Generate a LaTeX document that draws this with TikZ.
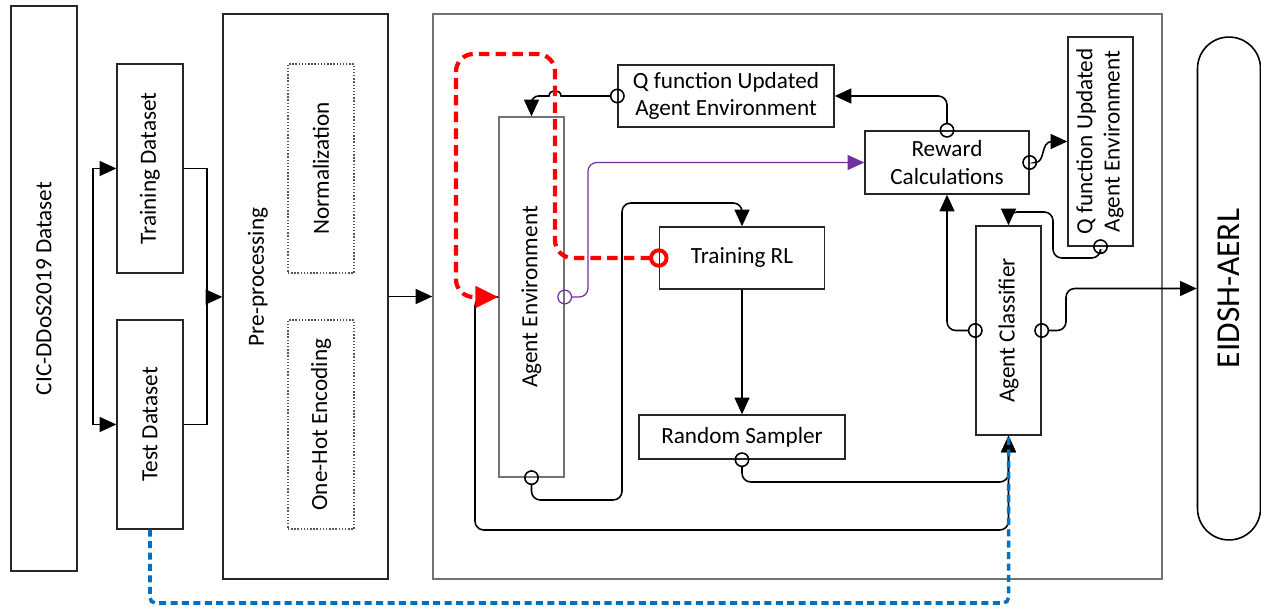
\documentclass[tikz,border=0pt]{standalone}
\usepackage{fontspec}
\setmainfont{Carlito}
\usetikzlibrary{arrows.meta,positioning,calc}
\definecolor{flowblue}{RGB}{0,112,192}
\definecolor{flowpurple}{RGB}{112,48,160}

\begin{document}
\begin{tikzpicture}[x=0.02cm, y=-0.02cm,
  box/.style={rectangle, draw=black!85, line width=0.8pt, inner sep=2pt, font=\fontsize{13.2}{15.5}\selectfont, align=center},
  stage/.style={box, draw=black!55},
  sub/.style={box, draw=black!65, densely dotted},
  flow/.style={-{Triangle[length=9.5pt,width=8.5pt]}, line width=0.9pt, rounded corners=5pt},
  port/.style={flow, {Circle[open,length=8.5pt,width=8.5pt]}-{Triangle[length=9.5pt,width=8.5pt]}, shorten <=-4.25pt},
  train path/.style={red, line width=2.4pt, dash pattern=on 6pt off 3.5pt, rounded corners=10pt,
    {Circle[open,length=11pt,width=11pt,line width=2.2pt]}-{Triangle[length=13pt,width=12pt]}, shorten <=-5.5pt},
  test path/.style={flowblue, line width=2pt, dash pattern=on 4pt off 2.5pt, rounded corners=3pt}
]
\useasboundingbox (0,0) rectangle (1261,607);

% datasets and pre-processing
\node[box, minimum width=1.32cm, minimum height=11.3cm] (cic) at (44,288.5) {\rotatebox{90}{CIC-DDoS2019 Dataset}};
\node[box, minimum width=1.32cm, minimum height=4.18cm] (train) at (150,168.5) {\rotatebox{90}{Training Dataset}};
\node[box, minimum width=1.32cm, minimum height=4.18cm] (test) at (150,424.5) {\rotatebox{90}{Test Dataset}};
\node[box, minimum width=3.3cm, minimum height=11.3cm] (prep) at (305.5,296.5) {};
\node[font=\fontsize{13.2}{15.5}\selectfont, rotate=90] (preplabel) at (258,277) {Pre-processing};
\node[sub, minimum width=1.32cm, minimum height=4.18cm] (norm) at (321,168.5) {\rotatebox{90}{Normalization}};
\node[sub, minimum width=1.32cm, minimum height=4.18cm] (onehot) at (321,424.5) {\rotatebox{90}{One-Hot Encoding}};

% RL agent block
\node[stage, minimum width=14.58cm, minimum height=11.3cm] (main) at (797.5,296.5) {};
\node[stage, minimum width=1.3cm, minimum height=7.2cm] (agentenv) at (531.5,297) {\rotatebox{90}{Agent Environment}};
\node[box, minimum width=4.32cm, minimum height=1.24cm] (qupd) at (726,96) {Q function Updated\\Agent Environment};
\node[box, minimum width=3.3cm, minimum height=1.24cm] (trainrl) at (742,258) {Training RL};
\node[box, minimum width=4.12cm, minimum height=0.88cm] (sampler) at (742,437) {Random Sampler};
\node[box, minimum width=3.28cm, minimum height=1.26cm] (reward) at (947,162.5) {Reward\\Calculations};
\node[box, minimum width=1.3cm, minimum height=4.18cm] (qvert) at (1100.5,141.5)
  {\rotatebox{90}{\begin{tabular}{@{}c@{}}Q function Updated\\Agent Environment\end{tabular}}};
\node[box, minimum width=1.3cm, minimum height=4.18cm] (classifier) at (1008.5,330.5) {\rotatebox{90}{Agent Classifier}};
\node[draw, line width=0.9pt, rounded corners=0.63cm, minimum width=1.26cm, minimum height=10.06cm,
  font=\fontsize{19}{22}\selectfont] (eidsh) at (1229,288.5) {\rotatebox{90}{EIDSH-AERL}};

\coordinate (fork) at (93,297);
\coordinate (merge) at (207,297);

% left part
\draw[flow, rounded corners=0pt] (fork) |- (train);
\draw[flow, rounded corners=0pt] (fork) |- (test);
\draw[line width=0.9pt] (train) -| (merge);
\draw[line width=0.9pt] (test) -| (merge);
\draw[flow] (merge) -- (prep);
\draw[flow] (prep) -- (main);

% loops inside the agent block
\draw[port, sharp corners] (qupd.west) -- (561,96) .. controls (561,89) and (549,89) .. (549,96)
  [rounded corners=4pt] -| (agentenv.north);
\draw[port] (reward.north) |- (qupd.east);
\draw[port, sharp corners] (reward.east) -- (1035,162.5) .. controls (1046,162.5) and (1040,141.5) .. (1052,141.5) -- (qvert.west);
\draw[port, flowpurple, line width=0.7pt] (agentenv.east) -- (588,297) |- (reward.west);
\draw[port] (classifier.west) -| (reward.south);
\draw[port] (qvert.south) |- (1053,258) -- (1053,212) -| (classifier.north);
\draw[port] (classifier.east) -- (1066,330.5) |- (eidsh.west);
\draw[port] (agentenv.south) |- (622,500) -- (622,203) -| (trainrl.north);
\draw[flow] (trainrl) -- (sampler);
\draw[port] (sampler.south) -- (742,482) -| (classifier.south);
\draw[flow] (agentenv.west) -- (475,297) -- (475,530) -| (classifier.south);

% test data straight to the classifier
\draw[test path] (test.south) -- (150,603) -| (classifier.south);

% training feedback
\draw[train path] (trainrl.west) -| (555,54) -| (456,297) -- (agentenv.west);
\end{tikzpicture}
\end{document}
